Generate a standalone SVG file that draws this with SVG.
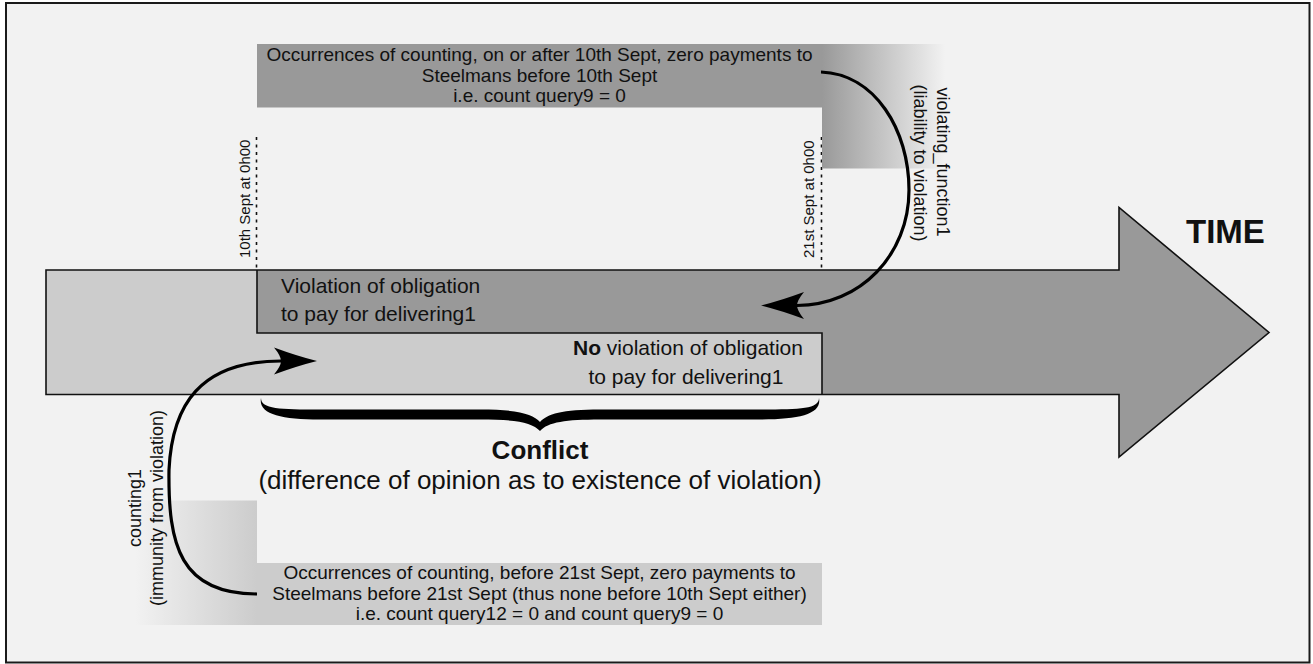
<svg xmlns="http://www.w3.org/2000/svg" width="1313" height="664" viewBox="0 0 1313 664">
  <defs>
    <style>
      text { font-family: "Liberation Sans", Arial, Helvetica, sans-serif; fill: #111; }
      .box { font-size: 19px; text-anchor: middle; }
      .band { font-size: 21px; }
      .mark { font-size: 15px; }
      .side { font-size: 18px; text-anchor: middle; }
      .link { fill: none; stroke: #000; stroke-width: 3.2; }
      .edge { fill: none; stroke: #111; stroke-width: 1.6; }
      .tick { fill: none; stroke: #111; stroke-width: 1.6; stroke-dasharray: 3 4.5; }
    </style>
    <linearGradient id="fadeTop" x1="0" y1="0" x2="1" y2="0">
      <stop offset="0" stop-color="#999999"/>
      <stop offset="1" stop-color="#f2f2f2"/>
    </linearGradient>
    <linearGradient id="fadeBottom" x1="0" y1="0" x2="1" y2="0">
      <stop offset="0" stop-color="#f2f2f2"/>
      <stop offset="1" stop-color="#cccccc"/>
    </linearGradient>
    <marker id="head" markerUnits="userSpaceOnUse" markerWidth="60" markerHeight="40" refX="0" refY="0" viewBox="-10 -20 60 40" orient="auto" overflow="visible">
      <path d="M36,0 Q16,-5 -7,-13.5 Q0,-5 0,0 Q0,5 -7,13.5 Q16,5 36,0 Z" fill="#000"/>
    </marker>
  </defs>

  <!-- page frame -->
  <rect x="0" y="0" width="1313" height="664" fill="#ffffff"/>
  <rect x="6" y="3" width="1303.5" height="659.5" fill="#f2f2f2" stroke="#1a1a1a" stroke-width="2"/>

  <!-- time line arrow with the two opinion bands -->
  <g id="time-arrow">
    <polygon points="46,270 1119,270 1119,207.5 1269,332.5 1119,457 1119,394.5 46,394.5" fill="#999999"/>
    <rect x="46" y="270" width="211" height="124.5" fill="#cccccc"/>
    <rect x="257" y="333" width="565" height="61.5" fill="#cccccc"/>
    <path class="edge" d="M257,270 V333 H822 V394.5"/>
    <polygon class="edge" points="46,270 1119,270 1119,207.5 1269,332.5 1119,457 1119,394.5 46,394.5"/>
    <text x="1186" y="243" font-size="33" font-weight="bold">TIME</text>
  </g>

  <g id="violation">
    <text class="band" x="281" y="292.5">Violation of obligation</text>
    <text class="band" x="281" y="321">to pay for delivering1</text>
  </g>

  <g id="no-violation">
    <text class="band" x="688" y="355" text-anchor="middle"><tspan font-weight="bold">No</tspan> violation of obligation</text>
    <text class="band" x="686" y="384" text-anchor="middle">to pay for delivering1</text>
  </g>

  <!-- date markers -->
  <g id="date-10th">
    <line class="tick" x1="256.5" y1="137" x2="256.5" y2="268"/>
    <text class="mark" transform="translate(249.5,258) rotate(-90)">10th Sept at 0h00</text>
  </g>
  <g id="date-21st">
    <line class="tick" x1="821.5" y1="137" x2="821.5" y2="268"/>
    <text class="mark" transform="translate(813.5,258) rotate(-90)">21st Sept at 0h00</text>
  </g>

  <!-- upper occurrences box -->
  <g id="occurrences-after">
    <rect x="822" y="44" width="123" height="124.5" fill="url(#fadeTop)"/>
    <rect x="257" y="44" width="565" height="63.5" fill="#999999"/>
    <text class="box" x="539.5" y="61">Occurrences of counting, on or after 10th Sept, zero payments to</text>
    <text class="box" x="539.5" y="81.5">Steelmans before 10th Sept</text>
    <text class="box" x="539.5" y="102">i.e. count query9 = 0</text>
  </g>

  <!-- lower occurrences box -->
  <g id="occurrences-before">
    <rect x="135" y="500.5" width="122" height="124.5" fill="url(#fadeBottom)"/>
    <rect x="257" y="563" width="565" height="62" fill="#cccccc"/>
    <text class="box" x="539.5" y="579">Occurrences of counting, before 21st Sept, zero payments to</text>
    <text class="box" x="539.5" y="599.5">Steelmans before 21st Sept (thus none before 10th Sept either)</text>
    <text class="box" x="539.5" y="620">i.e. count query12 = 0 and count query9 = 0</text>
  </g>

  <!-- conflict brace -->
  <g id="conflict">
    <path fill="#000" d="M261,398 C261,409 280,409.5 320,409.5 L480,409.5 C518,409.5 533,414 540,422 C547,414 562,409.5 600,409.5 L760,409.5 C800,409.5 819,409 819,398 C822,414 800,419.5 760,419.5 L600,419.5 C566,419.5 548,422 540,431 C532,422 514,419.5 480,419.5 L320,419.5 C280,419.5 258,414 261,398 Z"/>
    <text x="540" y="459" font-size="26" font-weight="bold" text-anchor="middle">Conflict</text>
    <text x="540" y="488.5" font-size="26" text-anchor="middle">(difference of opinion as to existence of violation)</text>
  </g>

  <!-- connectors -->
  <g id="connectors">
    <path class="link" d="M821,72 C875,74 909,130 909,190 C909,255 860,305.5 797,305.5" marker-end="url(#head)"/>
    <path class="link" d="M257,594 C180,594 168,545 169,470 C172,405 200,361 281,361" marker-end="url(#head)"/>
  </g>

  <!-- connector labels -->
  <g id="label-violating">
    <text class="side" transform="translate(937,162) rotate(90)">violating_function1</text>
    <text class="side" transform="translate(914,163) rotate(90)">(liability to violation)</text>
  </g>
  <g id="label-counting">
    <text class="side" transform="translate(141,508) rotate(-90)">counting1</text>
    <text class="side" transform="translate(163,508) rotate(-90)">(immunity from violation)</text>
  </g>
</svg>
